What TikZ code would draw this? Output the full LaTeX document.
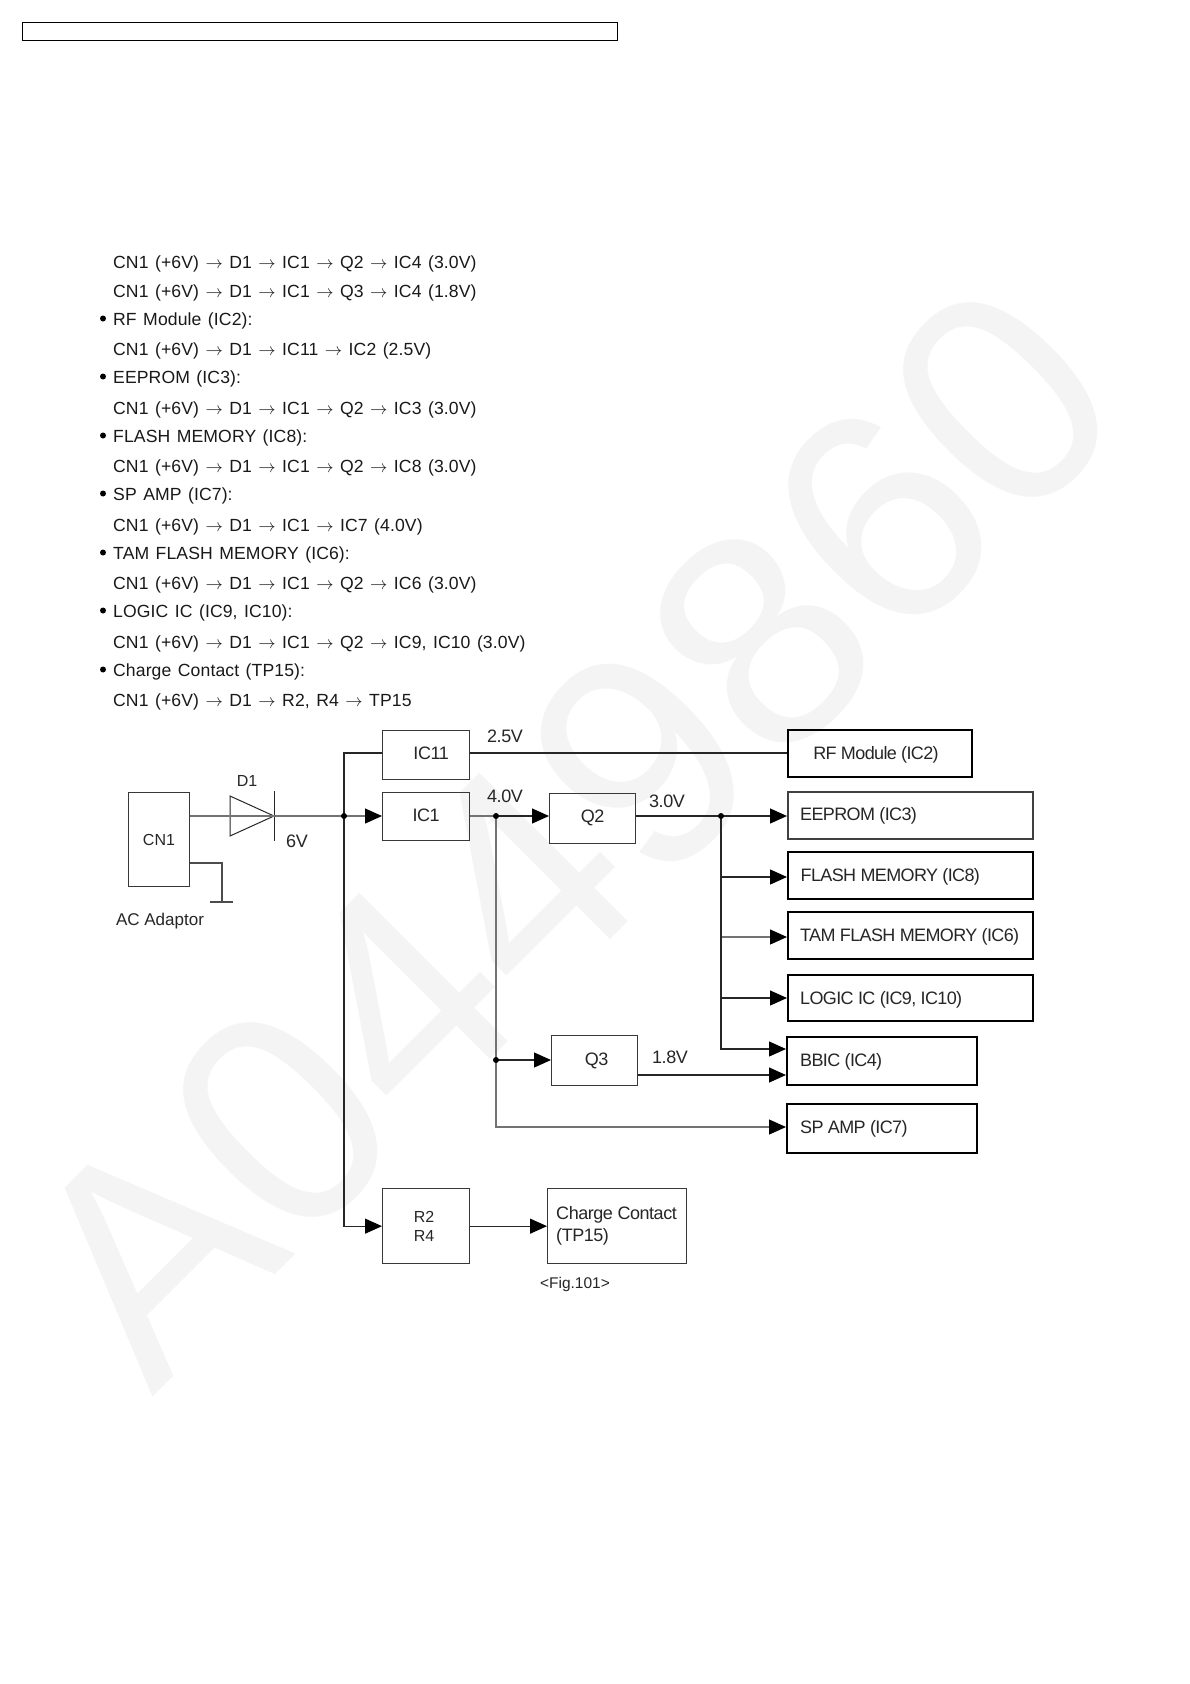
\documentclass[tikz,border=0pt]{standalone}
\usepackage{fontspec}
\setmainfont{Liberation Sans}
\newfontfamily\bodyf[WordSpace=1.3,LetterSpace=0.6]{Liberation Sans}
\usetikzlibrary{arrows.meta}
\newcommand{\ar}{\hspace{6.5pt}$\rightarrow$\hspace{6.5pt}}
\tikzset{
  x=1pt,y=-1pt,
  box/.style={draw=black!78,line width=1.3pt,inner sep=0pt,anchor=north west},
  mbox/.style={draw=black!75,line width=1.6pt,inner sep=0pt,anchor=north west},
  bbox/.style={draw=black,line width=1.9pt,inner sep=0pt,anchor=north west},
  lbl/.style={font=\fontsize{18}{22}\selectfont\addfontfeature{LetterSpace=-2.5},text=black!85,inner sep=0pt},
  tlbl/.style={lbl,font=\fontsize{18}{22}\selectfont\addfontfeature{LetterSpace=-3.5}},
  body/.style={font=\bodyf\fontsize{17.6}{20}\selectfont,text=black!90,inner sep=0pt,anchor=base west},
  wire/.style={line width=1.2pt,draw=black!85},
  gwire/.style={line width=1.2pt,draw=black!55},
  arr/.style={wire,-{Triangle[length=17pt,width=15pt,color=black,fill=black]}},
  garr/.style={gwire,-{Triangle[length=17pt,width=15pt,color=black,fill=black]}},
  dotj/.style={circle,fill=black,inner sep=0pt,minimum size=6pt},
}
\newcommand{\bx}[6][box]{\node[#1,minimum width=#4-#3,minimum height=#6-#5] (#2) at (#3,#5) {};}
\begin{document}
\begin{tikzpicture}
\useasboundingbox (0,0) rectangle (1190,1684);
\fill[white] (0,0) rectangle (1190,1684);
\node[rotate=45,anchor=base west,text=black!4.5,inner sep=0pt,font=\fontsize{305}{305}\selectfont] (wm) at (152,1398) {A0449860};
\node[draw=black,line width=1.2pt,inner sep=0pt,anchor=north west,minimum width=595,minimum height=18] (hdr) at (21.5,21.5) {};
% body
\foreach \n/\yy/\tx in {
 l1/268/{CN1 (+6V)\ar D1\ar IC1\ar Q2\ar IC4 (3.0V)},
 l2/297/{CN1 (+6V)\ar D1\ar IC1\ar Q3\ar IC4 (1.8V)},
 l3/325/{RF Module (IC2):},
 l4/355/{CN1 (+6V)\ar D1\ar IC11\ar IC2 (2.5V)},
 l5/383/{EEPROM (IC3):},
 l6/414/{CN1 (+6V)\ar D1\ar IC1\ar Q2\ar IC3 (3.0V)},
 l7/442/{FLASH MEMORY (IC8):},
 l8/472/{CN1 (+6V)\ar D1\ar IC1\ar Q2\ar IC8 (3.0V)},
 l9/500/{SP AMP (IC7):},
 l10/531/{CN1 (+6V)\ar D1\ar IC1\ar IC7 (4.0V)},
 l11/559/{TAM FLASH MEMORY (IC6):},
 l12/589/{CN1 (+6V)\ar D1\ar IC1\ar Q2\ar IC6 (3.0V)},
 l13/617/{LOGIC IC (IC9, IC10):},
 l14/648/{CN1 (+6V)\ar D1\ar IC1\ar Q2\ar IC9, IC10 (3.0V)},
 l15/676/{Charge Contact (TP15):},
 l16/706/{CN1 (+6V)\ar D1\ar R2, R4\ar TP15}}
 {\node[body] (\n) at (113,\yy) {\tx};}
\foreach \n in {l3,l5,l7,l9,l11,l13,l15}
 {\fill[black] ([xshift=-10pt,yshift=6.5pt]\n.base west) circle (3pt);}
% boxes
\bx{cn}{128}{189}{792}{886}
\bx{ict}{382}{469}{730}{779}
\bx{ico}{382}{469}{792}{840}
\bx{qb}{549}{635}{793}{843}
\bx{qc}{551}{637}{1035}{1085}
\bx{rr}{382}{469}{1188}{1263}
\bx{chg}{547}{686}{1188}{1263}
\bx[bbox]{rf}{787}{971}{729}{776}
\bx[mbox]{eep}{787}{1032}{791}{838}
\bx[bbox]{fla}{787}{1032}{851}{898}
\bx[bbox]{tam}{787}{1032}{911}{958}
\bx[bbox]{log}{787}{1032}{974}{1020}
\bx[bbox]{bb}{786}{976}{1036}{1084}
\bx[bbox]{sp}{786}{976}{1103}{1152}
% labels
\node[lbl,font=\fontsize{16}{18}\selectfont] (tcn) at (159,840) {CN1};
\node[lbl,font=\fontsize{17}{18}\selectfont] (tac) at (160,921) {AC Adaptor};
\node[lbl,font=\fontsize{16}{18}\selectfont] (td) at (247,781) {D1};
\node[lbl] (t6) at (297,841) {6V};
\node[lbl] (t25) at (505,736) {2.5V};
\node[lbl] (t40) at (505,796) {4.0V};
\node[lbl] (t30) at (667,801) {3.0V};
\node[lbl] (t18) at (670,1057) {1.8V};
\node[lbl] at (ict.center) [xshift=5pt,yshift=2pt] (tict) {IC11};
\node[lbl] at (ico.center) [yshift=1pt] (tico) {IC1};
\node[lbl] at (qb.center) [yshift=1pt] (tqb) {Q2};
\node[lbl] at (qc.center) [xshift=2pt] (tqc) {Q3};
\node[lbl,align=center,font=\fontsize{16}{19}\selectfont] at (rr.center) (trr) [xshift=-2pt] {R2\\R4};
\node[lbl,align=left,anchor=west] at (chg.west) (tchg) [xshift=9pt] {Charge Contact\\(TP15)};
\node[tlbl] (trf) at (876,755) {RF Module (IC2)};
\node[tlbl,anchor=west] (teep) at (800,816) {EEPROM (IC3)};
\node[tlbl,anchor=west] (tfla) at (800.5,877) {FLASH MEMORY (IC8)};
\node[tlbl,anchor=west] (ttam) at (800,937) {TAM FLASH MEMORY (IC6)};
\node[tlbl,anchor=west] (tlog) at (800,1000) {LOGIC IC (IC9, IC10)};
\node[tlbl,anchor=west] (tbb) at (800,1062) {BBIC (IC4)};
\node[tlbl,anchor=west] (tsp) at (800,1129) {SP AMP (IC7)};
\node[inner sep=0pt,font=\fontsize{15.5}{18}\selectfont,text=black!85] (tfig) at (575,1284) {<Fig.101>};
% diode
\coordinate (dk) at (274,816);
\draw[line width=1pt,draw=black!85] (230,796) -- (274,816) -- (230,836) -- cycle;
\draw[line width=1pt,draw=black!85] (274,791) -- (274,841);
% coordinates
\coordinate (j1) at (344,816);
\coordinate (j2) at (496,816);
\coordinate (j3) at (721,816);
\coordinate (j4) at (496,1060);
\coordinate (gnd) at (222,902);
\coordinate (top) at (344,753);
\coordinate (rfin) at (787,753);
\coordinate (flain) at (787,877);
\coordinate (tamin) at (787,937);
\coordinate (login) at (787,998);
\coordinate (bu) at (786,1049);
\coordinate (bl) at (786,1075);
\coordinate (spin) at (786,1127);
% wires
\draw[gwire] (cn.east |- j1) -- (dk) -- (j1);
\draw[garr] (j1) -- (j1 -| ico.west);
\draw[wire] (ico.west |- top) -- (top) -- (j1);
\draw[wire] (ict.east |- top) -- (rfin);
\draw[arr] (j1) |- (rr.west);
\draw[gwire] (ico.east |- j2) -- (j2);
\draw[arr] (j2) -- (j2 -| qb.west);
\draw[gwire] (j2) -- (j4);
\draw[garr] (j4) |- (spin);
\draw[arr] (j4) -- (j4 -| qc.west);
\draw[wire] (qb.east |- j3) -- (j3);
\draw[arr] (j3) -- (j3 -| eep.west);
\draw[arr] (j3 |- flain) -- (flain);
\draw[garr] (j3 |- tamin) -- (tamin);
\draw[arr] (j3 |- login) -- (login);
\draw[arr] (j3) |- (bu);
\draw[arr] (qc.east |- bl) -- (bl);
\draw[arr] (rr.east) -- (chg.west);
\draw[gwire,draw=black!70] (cn.east |- 0,863) -| (gnd);
\draw[gwire,draw=black!70] (210,902) -- (233,902);
\node[dotj] (d1) at (j1) {};
\node[dotj] (d2) at (j2) {};
\node[dotj] (d3) at (j3) {};
\node[dotj] (d4) at (j4) {};
\end{tikzpicture}
\end{document}
